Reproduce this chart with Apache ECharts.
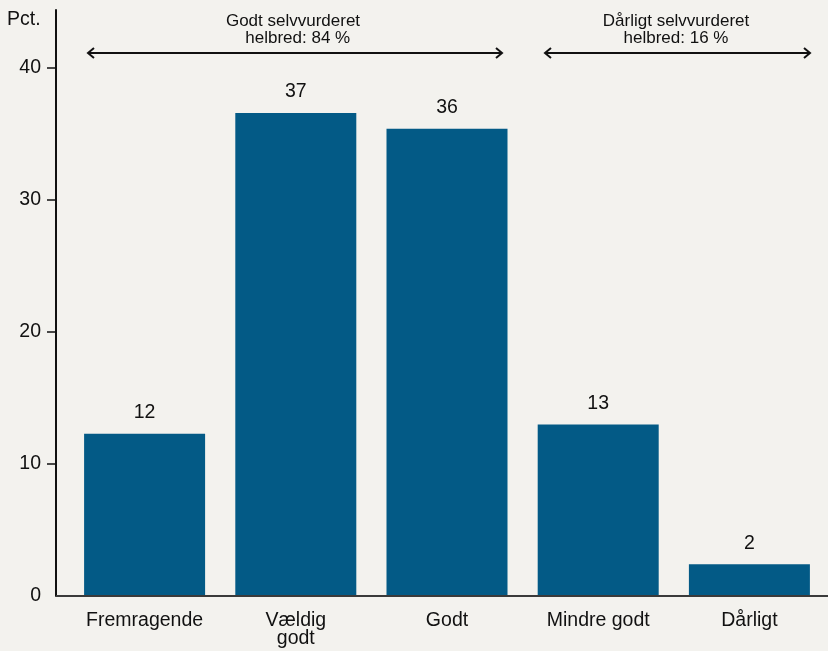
<!DOCTYPE html>
<html><head><meta charset="utf-8">
<script src="https://cdn.jsdelivr.net/npm/echarts@6/dist/echarts.min.js"></script>
<style>html,body{margin:0;padding:0;background:#f3f2ee;}#c{width:828px;height:651px;}</style>
</head><body><div id="c"></div>
<script>
const categories = ['Fremragende', 'Vældig\ngodt', 'Godt', 'Mindre godt', 'Dårligt'];
const values = [12.3, 36.6, 35.4, 13.0, 2.4];
const valueLabels = ['12', '37', '36', '13', '2'];
const yTicks = [0, 10, 20, 30, 40];
const groupLabels = ['Godt selvvurderet\n  helbred: 84 %', 'Dårligt selvvurderet\nhelbred: 16 %'];

const font = '"Liberation Sans", Arial, Helvetica, sans-serif';
const chart = echarts.init(document.getElementById('c'), null, {renderer: 'canvas'});

function arrow(x1, x2, y) {
  const h = 6, v = 5;
  return [
    {type: 'line', shape: {x1: x1, y1: y, x2: x2, y2: y}, style: {stroke: '#111', lineWidth: 2}},
    {type: 'polyline', shape: {points: [[x1 + h, y - v], [x1, y], [x1 + h, y + v]]}, style: {stroke: '#111', lineWidth: 2, fill: null}},
    {type: 'polyline', shape: {points: [[x2 - h, y - v], [x2, y], [x2 - h, y + v]]}, style: {stroke: '#111', lineWidth: 2, fill: null}}
  ];
}

chart.setOption({
  backgroundColor: '#f3f2ee',
  animation: false,
  grid: {left: 69, right: 3, top: 10, bottom: 55},
  xAxis: {
    type: 'category',
    data: categories,
    axisLine: {show: false},
    axisTick: {show: false},
    axisLabel: {interval: 0, color: '#111', fontSize: 19.5, fontFamily: font, margin: 16, lineHeight: 18}
  },
  yAxis: {
    type: 'value',
    min: 0, max: 44.4, interval: 10,
    offset: 13,
    splitLine: {show: false},
    axisLine: {show: true, lineStyle: {color: '#111', width: 2}},
    axisTick: {show: true, inside: false, length: 9, customValues: [10, 20, 30, 40], lineStyle: {color: '#111', width: 1.5}},
    axisLabel: {color: '#111', fontSize: 19.5, fontFamily: font, margin: 15, customValues: yTicks}
  },
  series: [{
    type: 'bar',
    data: values.map((v, i) => ({value: v, label: {formatter: valueLabels[i]}})),
    barWidth: 121,
    itemStyle: {color: '#035a86'},
    label: {show: true, position: 'top', distance: 11, color: '#111', fontSize: 19.5, fontFamily: font}
  }],
  graphic: [
    {type: 'line', shape: {x1: 56, y1: 596, x2: 828, y2: 596}, style: {stroke: '#3a3a3a', lineWidth: 2}, z: 10},
    {type: 'text', style: {text: 'Pct.', x: 7, y: 10, fill: '#111', font: '19.5px ' + font}},
    ...arrow(88, 502, 53),
    ...arrow(545, 810, 53),
    {type: 'text', x: 293, y: 13, style: {text: groupLabels[0], align: 'center', fill: '#111', font: '17px ' + font, lineHeight: 17}},
    {type: 'text', x: 676, y: 13, style: {text: groupLabels[1], align: 'center', fill: '#111', font: '17px ' + font, lineHeight: 17}}
  ]
});
</script></body></html>
